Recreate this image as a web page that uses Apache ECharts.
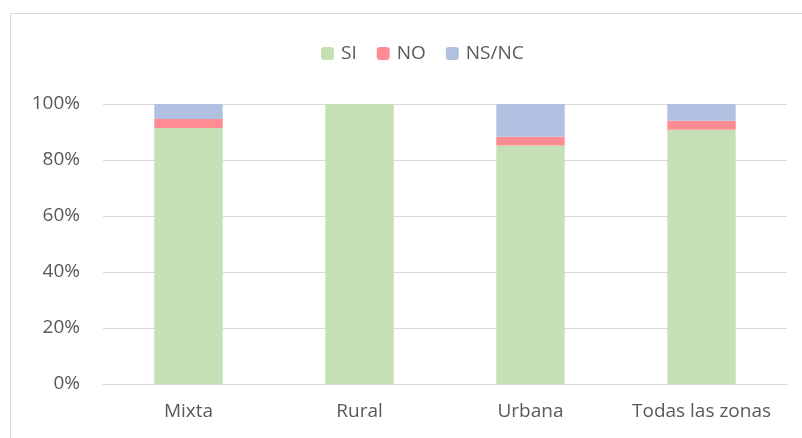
<!DOCTYPE html>
<html>
<head>
<meta charset="utf-8">
<script src="https://cdn.jsdelivr.net/npm/echarts@6/dist/echarts.min.js"></script>
<style>
  html, body { margin: 0; padding: 0; background: #fff; }
  #chart { width: 802px; height: 438px; }
</style>
</head>
<body>
<div id="chart"></div>
<script>
// datos (porcentaje)
const categories = ['Mixta', 'Rural', 'Urbana', 'Todas las zonas']
const siData = [91.4, 100, 85.2, 90.8]
const noData = [3.2, 0, 3.1, 3.2]
const nsncData = [5.4, 0, 11.7, 6.0]
const yTicks = [0, 20, 40, 60, 80, 100]

const textColor = '#595959'
const fontFamily = '"Open Sans", "Liberation Sans", sans-serif'

let chart = echarts.init(document.getElementById('chart'), null, { renderer: 'canvas' })
chart.setOption({
  animation: false,
  textStyle: { fontFamily: fontFamily, color: textColor },
  graphic: [{
    type: 'rect',
    shape: { x: 10.5, y: 13.5, width: 820, height: 440 },
    style: { fill: 'none', stroke: '#d9d9d9', lineWidth: 1 },
    silent: true
  }],
  legend: {
    top: 39,
    left: 316,
    itemWidth: 13,
    itemHeight: 13,
    itemGap: 20,
    textStyle: { fontSize: 19, color: textColor, fontFamily: fontFamily, padding: [0, 0, 0, 2] },
    data: ['SI', 'NO', 'NS/NC']
  },
  grid: {
    left: 103,
    right: 15,
    top: 104,
    bottom: 54
  },
  xAxis: {
    type: 'category',
    data: categories,
    axisTick: { show: false },
    axisLine: { lineStyle: { color: '#d9d9d9', width: 1 } },
    axisLabel: { interval: 0, fontSize: 19, color: textColor, margin: 18, fontFamily: fontFamily }
  },
  yAxis: {
    type: 'value',
    min: yTicks[0],
    max: yTicks[yTicks.length - 1],
    interval: 20,
    axisLine: { show: false },
    axisTick: { show: false },
    splitLine: { lineStyle: { color: '#d9d9d9', width: 1 } },
    axisLabel: {
      fontSize: 19, color: textColor, margin: 23, fontFamily: fontFamily,
      formatter: v => v + '%'
    }
  },
  series: [
    { name: 'SI', type: 'bar', stack: 'total', barWidth: '40%', data: siData,
      itemStyle: { color: '#c5e0b4' } },
    { name: 'NO', type: 'bar', stack: 'total', data: noData,
      itemStyle: { color: '#ff8b94' } },
    { name: 'NS/NC', type: 'bar', stack: 'total', data: nsncData,
      itemStyle: { color: '#b1c0e0' } }
  ]
})
</script>
</body>
</html>
